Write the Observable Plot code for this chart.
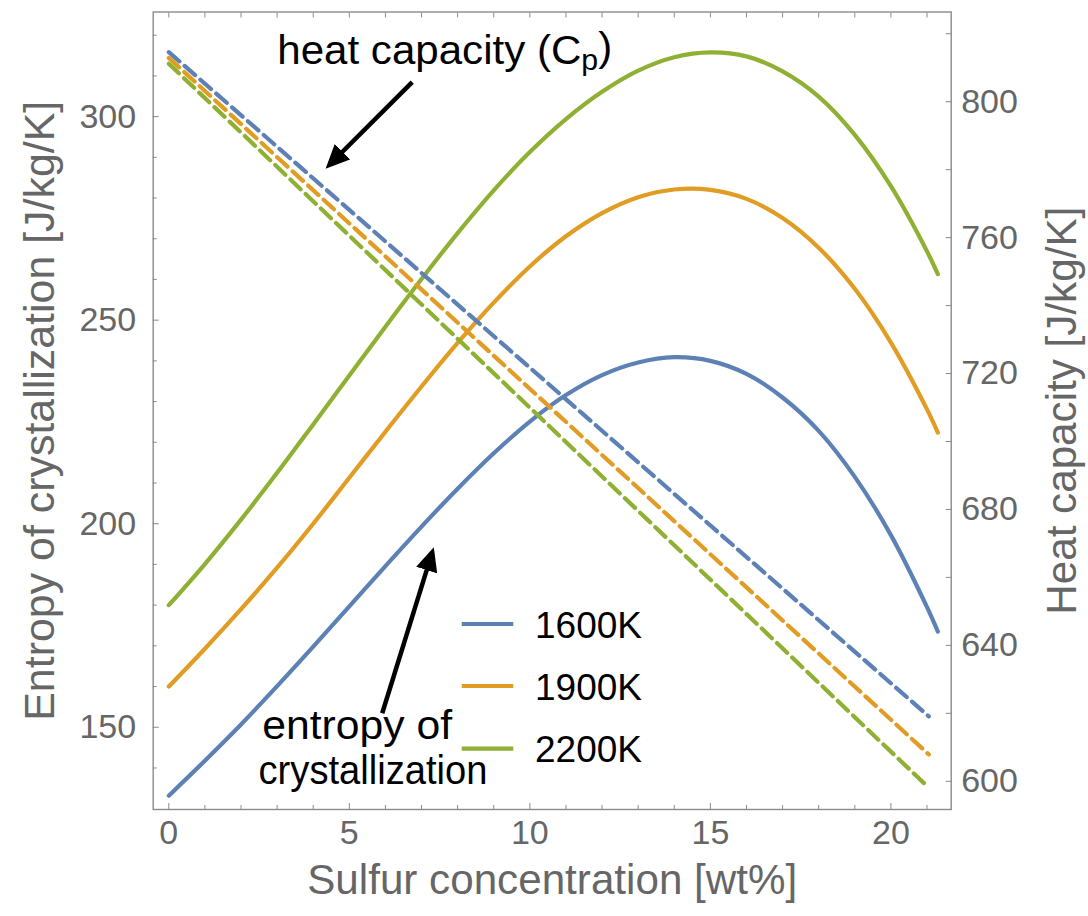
<!DOCTYPE html>
<html><head><meta charset="utf-8">
<script src="https://cdn.jsdelivr.net/npm/d3@7"></script>
<script src="https://cdn.jsdelivr.net/npm/@observablehq/plot@0.6"></script>
<style>
body{margin:0;background:#fff;}
#wrap{position:relative;width:1088px;height:916px;font-family:"Liberation Sans",Arial,Helvetica,sans-serif;}
#legend{position:absolute;left:0;top:0;pointer-events:none;}
</style></head><body><div id="wrap"></div>
<script>
// ---- data ----
const temps = ["1600K", "1900K", "2200K"];
const colors = ["#5E81B5", "#E19C24", "#8FB032"];

// solid curves: entropy of crystallization [J/kg/K], left axis
const sulfur = [0,1,2,3,4,5,6,7,8,9,10,11,12,13,14,15,16,17,18,19,20,21,21.3];
const entropy1600 = [133.2,141.8,150.7,160.1,169.8,179.7,189.6,199.3,208.6,217.3,225.1,231.6,236.5,239.6,240.9,240.0,236.8,231.0,222.8,211.5,197.2,179.5,173.5];
const entropy1900 = [160.0,169.3,179.0,189.2,200.0,211.3,222.6,233.7,244.4,254.3,263.2,270.6,276.3,280.2,282.1,282.0,279.8,275.1,267.8,257.7,244.5,228.1,222.4];
const entropy2200 = [180.0,190.1,201.0,212.5,224.4,236.4,248.4,260.1,271.4,281.9,291.3,299.4,306.1,311.3,314.6,315.8,314.8,311.1,304.9,295.5,282.9,266.9,261.3];

// dashed lines: heat capacity [J/kg/K], right axis
const cpSulfur = [0, 21.05];
const cp1600 = [814.6, 619.1];
const cp1900 = [812.9, 607.9];
const cp2200 = [811.2, 598.1];

// ticks
const xTicksMajor = [0,5,10,15,20];
const xTicksMinor = [1,2,3,4,6,7,8,9,11,12,13,14,16,17,18,19,21];
const xTicksAll = [0,1,2,3,4,5,6,7,8,9,10,11,12,13,14,15,16,17,18,19,20,21];
const leftTicksMajor = [150,200,250,300];
const leftTicksMinor = [140,160,170,180,190,210,220,230,240,260,270,280,290,310,320];
const rightTicksMajor = [600,640,680,720,760,800];
const rightTicksMinor = [620,660,700,740,780,820];

// texts
const xTitle = "Sulfur concentration [wt%]";
const leftTitle = "Entropy of crystallization [J/kg/K]";
const rightTitle = "Heat capacity [J/kg/K]";
const annotations = [
  {label: "heat capacity (Cp)", x: 3.003, y: 313.0},
  {label: "entropy of", x: 2.587, y: 147.15},
  {label: "crystallization", x: 2.485, y: 136.1}
];
const arrows = [
  {x1: 6.742, y1: 308.48, x2: 4.499, y2: 288.6},
  {x1: 5.911, y1: 153.44, x2: 7.274, y2: 192.36}
];

// ---- scales ----
const xDomain = [-0.432, 21.67];
const yDomain = [129.8, 325.7];
// right axis alignment: 600 and 800 J/kg/K sit at these left-axis values
const r600 = 136.73, r800 = 303.66;
const toLeft = v => r600 + (v - 600) * (r800 - r600) / 200;
const fromLeft = v => 600 + (v - r600) * 200 / (r800 - r600);

const entropyRows = [];
[entropy1600, entropy1900, entropy2200].forEach((arr, k) =>
  arr.forEach((v, i) => entropyRows.push({s: sulfur[i], v, T: temps[k]})));
const cpRows = [];
[cp1600, cp1900, cp2200].forEach((arr, k) =>
  arr.forEach((v, i) => cpRows.push({s: cpSulfur[i], v: toLeft(v), T: temps[k]})));

const tickColor = "#8a8a8a";
const labelColor = "#666666";
const FONT = '"Liberation Sans", Arial, Helvetica, sans-serif';

const chart = Plot.plot({
  width: 1088, height: 916,
  marginLeft: 152.7, marginRight: 137.3, marginTop: 11.5, marginBottom: 107,
  x: {domain: xDomain},
  y: {domain: yDomain},
  color: {domain: temps, range: colors},
  style: {fontFamily: FONT, background: "white", overflow: "visible"},
  marks: [
    Plot.frame({stroke: tickColor, strokeWidth: 1.4}),
    // bottom
    Plot.axisX(xTicksMajor, {anchor: "bottom", tickSize: 6, insetBottom: 6, tickPadding: 10, fontSize: 34, fill: labelColor, stroke: tickColor, label: null}),
    Plot.axisX(xTicksMinor, {anchor: "bottom", tickSize: 4, insetBottom: 4, tickFormat: () => "", stroke: tickColor, label: null}),
    // top
    Plot.axisX(xTicksAll, {anchor: "top", tickSize: 5, insetTop: 5, tickFormat: () => "", stroke: tickColor, label: null}),
    // left
    Plot.axisY(leftTicksMajor, {anchor: "left", tickSize: 6, insetLeft: 6, tickPadding: 17, fontSize: 34, fill: labelColor, stroke: tickColor, label: null}),
    Plot.axisY(leftTicksMinor, {anchor: "left", tickSize: 4, insetLeft: 4, tickFormat: () => "", stroke: tickColor, label: null}),
    // right
    Plot.axisY(rightTicksMajor.map(toLeft), {anchor: "right", tickSize: 6, insetRight: 6, tickPadding: 10, fontSize: 34, fill: labelColor, stroke: tickColor, tickFormat: d => String(Math.round(fromLeft(d))), label: null}),
    Plot.axisY(rightTicksMinor.map(toLeft), {anchor: "right", tickSize: 6, insetRight: 6, tickFormat: () => "", stroke: tickColor, label: null}),
    // titles
    Plot.text([xTitle], {text: d => d, frameAnchor: "bottom", dy: 84, textAnchor: "middle", lineAnchor: "bottom", fontSize: 42, fill: labelColor}),
    Plot.text([leftTitle], {text: d => d, frameAnchor: "left", dx: -112.7, rotate: -90, textAnchor: "middle", lineAnchor: "middle", fontSize: 42, fill: labelColor}),
    Plot.text([rightTitle], {text: d => d, frameAnchor: "right", dx: 110.9, rotate: -90, textAnchor: "middle", lineAnchor: "middle", fontSize: 42, fill: labelColor}),
    // data
    Plot.line(entropyRows, {x: "s", y: "v", z: "T", stroke: "T", strokeWidth: 4.2, curve: "catmull-rom"}),
    Plot.line(cpRows, {x: "s", y: "v", z: "T", stroke: "T", strokeWidth: 4.2, strokeDasharray: "14,7"}),
    // annotations
    Plot.link(arrows, {x1: "x1", y1: "y1", x2: "x2", y2: "y2", stroke: "black", strokeWidth: 4.5}),
    Plot.text(annotations, {x: "x", y: "y", text: "label", textAnchor: "start", lineAnchor: "bottom", fontSize: 41, fill: "black"})
  ]
});

const wrap = document.getElementById("wrap");
wrap.appendChild(chart);
const svg = d3.select(chart);

// filled arrowheads on annotation arrows
const defs = svg.insert("defs", ":first-child");
defs.append("marker").attr("id", "ah").attr("viewBox", "0 0 24 22")
  .attr("refX", 16).attr("refY", 11).attr("markerWidth", 24).attr("markerHeight", 22)
  .attr("markerUnits", "userSpaceOnUse").attr("orient", "auto")
  .append("path").attr("d", "M0,0L24,11L0,22Z").attr("fill", "black");
svg.selectAll('g[aria-label="link"] path').attr("marker-end", "url(#ah)");

// fit text lengths to the reference
const fitLen = {};
fitLen[xTitle] = 490; fitLen[leftTitle] = 620; fitLen[rightTitle] = 408;
fitLen["entropy of"] = 190; fitLen["crystallization"] = 229; fitLen["heat capacity (Cp)"] = 335;
svg.selectAll("text").each(function() {
  const L = fitLen[this.textContent];
  if (L) d3.select(this).attr("textLength", L).attr("lengthAdjust", "spacingAndGlyphs");
});

// subscript p in "(Cp)"
svg.selectAll("text").filter(function() { return this.textContent === "heat capacity (Cp)"; })
  .each(function() {
    const t = d3.select(this);
    t.text("");
    t.append("tspan").text("heat capacity (C");
    t.append("tspan").attr("font-size", "72%").attr("dy", "0.22em").text("p");
    t.append("tspan").attr("dy", "-0.22em").text(")");
  });

// legend
const lg = d3.select(wrap).append("svg").attr("id", "legend").attr("width", 1088).attr("height", 916);
const legendRowY = [624, 686, 748.7];
temps.forEach((t, i) => {
  lg.append("line").attr("x1", 461.7).attr("x2", 513.3).attr("y1", legendRowY[i]).attr("y2", legendRowY[i])
    .attr("stroke", colors[i]).attr("stroke-width", 4.2);
  lg.append("text").attr("x", 535).attr("y", legendRowY[i] + 13.5).attr("font-size", 37)
    .attr("font-family", FONT).attr("fill", "black").text(t);
});
</script></body></html>
